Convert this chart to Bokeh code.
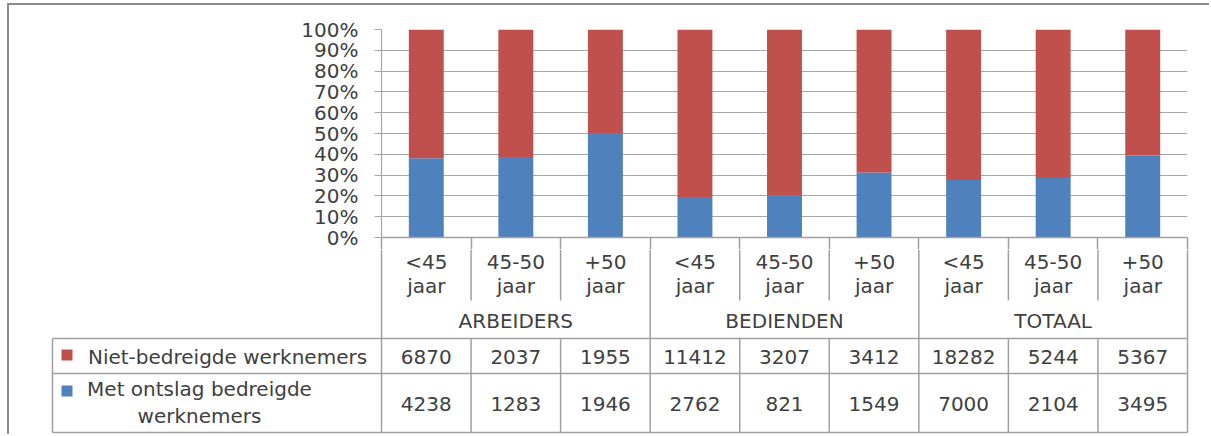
import numpy as np
from bokeh.plotting import figure
from bokeh.layouts import column
from bokeh.models import Range1d, FixedTicker, NumeralTickFormatter
from bokeh.embed import file_html
from bokeh.resources import INLINE
from bokeh.core.properties import value

# ---------------- data ----------------
groups = ["ARBEIDERS", "BEDIENDEN", "TOTAAL"]
ages = ["<45 jaar", "45-50 jaar", "+50 jaar"]
series_names = ["Niet-bedreigde werknemers", "Met ontslag bedreigde werknemers"]
niet_bedreigd = [6870, 2037, 1955, 11412, 3207, 3412, 18282, 5244, 5367]
met_ontslag = [4238, 1283, 1946, 2762, 821, 1549, 7000, 2104, 3495]
y_ticks = [0, 0.1, 0.2, 0.3, 0.4, 0.5, 0.6, 0.7, 0.8, 0.9, 1.0]

# ---------------- style ----------------
RED = "#C0504D"
BLUE = "#4F81BD"
GRID = "#A6A6A6"
TABLE = "#A0A0A0"
TEXT = "#404040"
FONT = "DejaVu Sans"
FS = "20px"

n = len(niet_bedreigd)
xc = np.arange(n) + 0.5
nb = np.array(niet_bedreigd, dtype=float)
mo = np.array(met_ontslag, dtype=float)
share_met = mo / (nb + mo)

# page-pixel layout
OX, OY = 9, 5
W = 1200
PL, PR, PT, PB = 381, 1187, 29, 237
SPLIT = 249
BOTTOM = 434
s = (PR - PL) / n


def px(page_x):
    return (page_x - PL) / s


# ---------------- chart figure ----------------
pa = figure(width=W, height=SPLIT - OY, output_backend="svg", toolbar_location=None,
            x_range=Range1d(0, n), y_range=Range1d(0, 1),
            min_border_left=PL - OX, min_border_right=W - (PR - OX),
            min_border_top=PT - OY, min_border_bottom=SPLIT - PB)
pa.frame_align = False
pa.outline_line_color = None
pa.background_fill_color = "white"

pa.vbar(x=xc, width=0.39, bottom=0, top=share_met, color=BLUE, line_color=None)
pa.vbar(x=xc, width=0.39, bottom=share_met, top=1, color=RED, line_color=None)

pa.xgrid.visible = False
pa.ygrid.ticker = FixedTicker(ticks=y_ticks)
pa.ygrid.grid_line_color = GRID
pa.ygrid.grid_line_width = 1.2

ya = pa.yaxis[0]
ya.ticker = FixedTicker(ticks=y_ticks)
ya.formatter = NumeralTickFormatter(format="0%")
ya.axis_line_color = GRID
ya.axis_line_width = 1.2
ya.major_tick_line_color = GRID
ya.major_tick_out = 7
ya.major_tick_in = 0
ya.minor_tick_line_color = None
ya.major_label_standoff = 16
ya.major_label_text_font = FONT
ya.major_label_text_font_size = FS
ya.major_label_text_color = TEXT

xa = pa.xaxis[0]
xa.ticker = FixedTicker(ticks=list(range(n + 1)))
xa.major_label_overrides = {i: "" for i in range(n + 1)}
xa.major_label_text_font_size = "0px"
xa.major_label_standoff = 0
xa.axis_line_color = TABLE
xa.axis_line_width = 1.5
xa.major_tick_line_color = TABLE
xa.major_tick_line_width = 1.5
xa.major_tick_out = SPLIT - PB
xa.major_tick_in = 0
xa.minor_tick_line_color = None

# ---------------- table figure ----------------
pb = figure(width=W, height=BOTTOM - SPLIT, output_backend="svg", toolbar_location=None,
            x_range=Range1d(px(OX), px(OX + W)), y_range=Range1d(BOTTOM, SPLIT),
            x_axis_type=None, y_axis_type=None, min_border=0)
pb.frame_align = False
pb.outline_line_color = None
pb.xgrid.visible = False
pb.ygrid.visible = False

ROW_TOP, ROW_MID, ROW_BOT = 338, 373, 432
CAT_END = 300
LEG_L = px(52)

x0, y0, x1, y1 = [], [], [], []
for yy in (ROW_TOP, ROW_MID, ROW_BOT):
    x0.append(LEG_L); x1.append(n); y0.append(yy); y1.append(yy)
x0.append(LEG_L); x1.append(LEG_L); y0.append(ROW_TOP); y1.append(ROW_BOT)
for i in range(n + 1):
    if i % 3 == 0:
        x0.append(i); x1.append(i); y0.append(SPLIT); y1.append(ROW_BOT)
    else:
        x0 += [i, i]; x1 += [i, i]; y0 += [SPLIT, ROW_TOP]; y1 += [CAT_END, ROW_BOT]
pb.segment(x0=x0, y0=y0, x1=x1, y1=y1, line_color=TABLE, line_width=1.5)

cat_line1 = [ages[i % 3].split(" ")[0] for i in range(n)]
cat_line2 = [ages[i % 3].split(" ")[1] for i in range(n)]
txt = dict(text_font=value(FONT), text_font_size=FS, text_color=TEXT,
           text_align="center", text_baseline="middle")
pb.text(x=xc, y=[261] * n, text=cat_line1, **txt)
pb.text(x=xc, y=[285] * n, text=cat_line2, **txt)
pb.text(x=[1.5, 4.5, 7.5], y=[320] * 3, text=groups, **txt)
pb.text(x=xc, y=[356] * n, text=[str(v) for v in niet_bedreigd], **txt)
pb.text(x=xc, y=[403] * n, text=[str(v) for v in met_ontslag], **txt)

# legend keys inside table
pb.scatter(x=[px(66.5), px(66.5)], y=[354.5, 390.5], marker="square", size=11,
           color=[RED, BLUE], line_color=None)
pb.text(x=[px(227)], y=[356], text=[series_names[0]], **txt)
pb.text(x=[px(199)], y=[402], text=["Met ontslag bedreigde\nwerknemers"],
        text_line_height=1.1, **txt)

layout = column(pa, pb, styles={"margin-left": "7px", "margin-top": "3px",
                                 "border-left": "2px solid #8C8C8C",
                                 "border-top": "2px solid #8C8C8C"})

open("out.html", "w").write(file_html(layout, INLINE))
